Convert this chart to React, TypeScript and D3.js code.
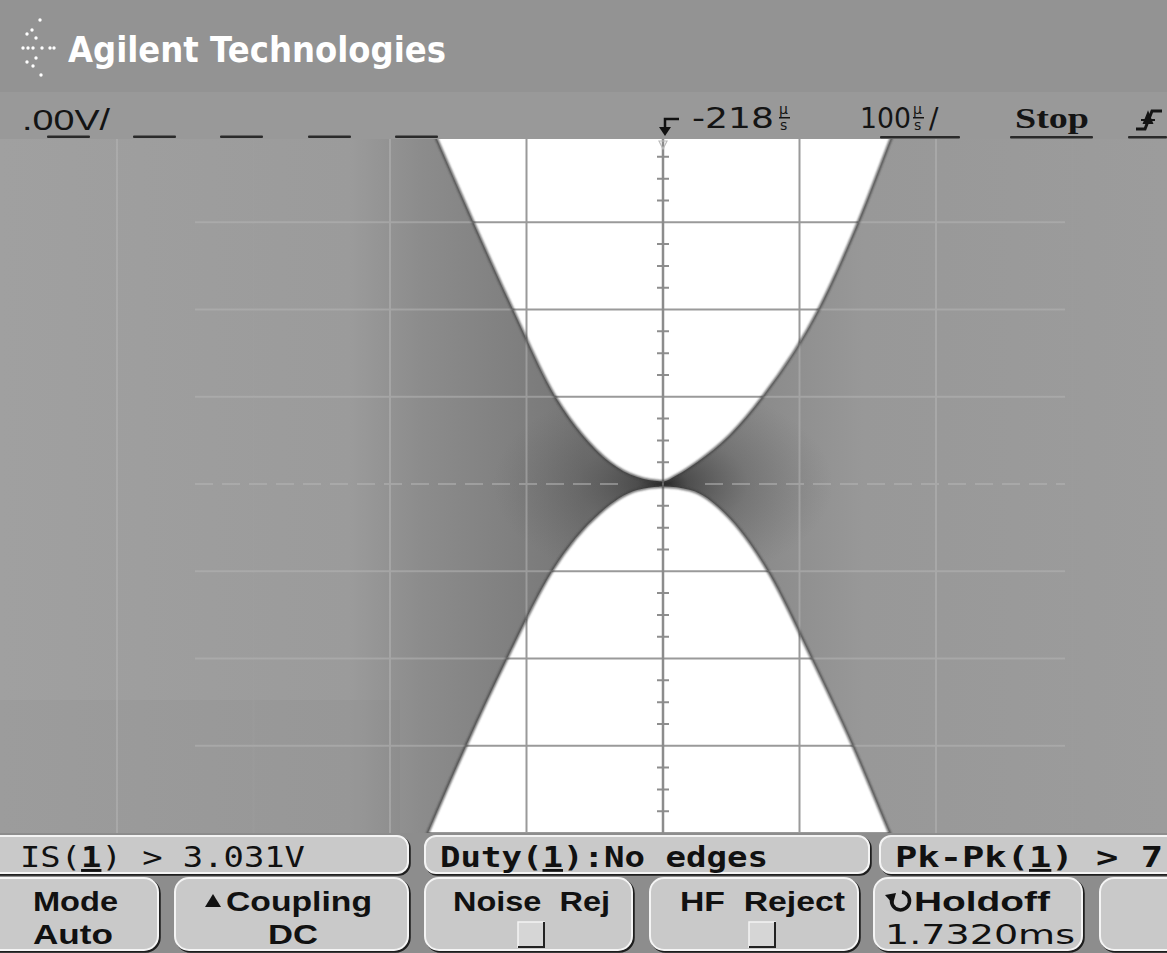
import React from 'react';
import * as d3 from 'd3';

const W = 1167;
const H = 953;

// Oscilloscope settings
const timePerDiv = 100; // µs / div
const delay = -218; // µs at screen centre
const voltsPerDiv = 1; // V / div
const divsY = 8;

// Inner edges of the waveform envelope (the white "hourglass" gaps)
const topEdgeTime = [-396, -385, -357, -328, -297, -277, -257, -237, -218, -208, -193, -169, -145, -104, -75, -50, -40];
const topEdgeVolt = [4.4, 4.0, 3.0, 2.0, 1.0, 0.56, 0.25, 0.08, 0.03, 0.1, 0.25, 0.56, 1.0, 2.0, 3.0, 4.0, 4.4];
const bottomEdgeTime = [-401, -390, -362, -332, -299, -264, -237, -218, -198, -173, -141, -109, -79, -52, -41];
const bottomEdgeVolt = [-4.4, -3.99, -2.99, -1.99, -0.99, -0.33, -0.07, -0.03, -0.07, -0.33, -1.0, -2.0, -3.0, -4.0, -4.4];

const measurements = ['IS(', '1', ') > 3.031V'];
const softkeyTop = ['Mode', 'Coupling', 'Noise  Rej', 'HF  Reject', 'Holdoff', ''];
const softkeyBottom = ['Auto', 'DC', '', '', '1.7320ms', ''];

const x = d3.scaleLinear().domain([delay - 5 * timePerDiv, delay + 5 * timePerDiv]).range([663 - 682.5, 663 + 682.5]);
const y = d3.scaleLinear().domain([-(divsY / 2) * voltsPerDiv, (divsY / 2) * voltsPerDiv]).range([833, 135]);

const PLOT_TOP = 139;
const PLOT_BOTTOM = 833;

function areaTop() {
  const idx = d3.range(topEdgeTime.length);
  return d3.area<number>().x(i => x(topEdgeTime[i])).y0(i => y(topEdgeVolt[i])).y1(y(4.8)).curve(d3.curveMonotoneX)(idx) || '';
}
function areaBottom() {
  const idx = d3.range(bottomEdgeTime.length);
  return d3.area<number>().x(i => x(bottomEdgeTime[i])).y0(i => y(bottomEdgeVolt[i])).y1(y(-4.8)).curve(d3.curveMonotoneX)(idx) || '';
}
function edgeTop() {
  const idx = d3.range(topEdgeTime.length);
  return d3.line<number>().x(i => x(topEdgeTime[i])).y(i => y(topEdgeVolt[i])).curve(d3.curveMonotoneX)(idx) || '';
}
function edgeBottom() {
  const idx = d3.range(bottomEdgeTime.length);
  return d3.line<number>().x(i => x(bottomEdgeTime[i])).y(i => y(bottomEdgeVolt[i])).curve(d3.curveMonotoneX)(idx) || '';
}

function Key({ x0, y0, w, h, r = 12 }: { x0: number; y0: number; w: number; h: number; r?: number }) {
  return (
    <g>
      <rect x={x0 + 1.5} y={y0 + 1.5} width={w} height={h} rx={r} fill="none" stroke="#1e1e1e" strokeWidth={2.5} />
      <rect x={x0} y={y0} width={w} height={h} rx={r} fill="#c9c9c9" stroke="#f4f4f4" strokeWidth={2} />
    </g>
  );
}

function CheckBox({ cx }: { cx: number }) {
  return (
    <g>
      <rect x={cx - 13} y={922} width={26} height={25} fill="#d6d6d6" stroke="#f4f4f4" strokeWidth={1.5} />
      <path d={`M${cx + 13},922 L${cx + 13},947 L${cx - 13},947`} fill="none" stroke="#222" strokeWidth={2} />
    </g>
  );
}

export default function App() {
  const xTicks = d3.range(0, 11).map(k => delay - 5 * timePerDiv + k * timePerDiv);
  const yTicks = d3.range(-4, 5).map(v => v * voltsPerDiv);
  const minor = d3.range(-4, 4.001, 0.25).filter(v => Math.abs(v - Math.round(v)) > 1e-6);
  const cx = x(delay);
  const cy = y(0);
  const top = areaTop();
  const bot = areaBottom();

  const logoDots: [number, number][] = [
    [40, 20], [32, 30], [27, 34], [23, 48], [28, 48], [33, 48], [42, 48], [50, 48], [54, 48], [27, 62], [33, 66], [41, 75], [36, 38], [36, 58],
  ];

  const sansB = '"Liberation Sans", Arial, sans-serif';
  const mono = '"DejaVu Sans Mono", monospace';

  return (
    <svg width={W} height={H} viewBox={`0 0 ${W} ${H}`} style={{ position: 'absolute', left: 0, top: 0, display: 'block' }}>
      <defs>
        <linearGradient id="bgx" x1="0" x2={W} y1="0" y2="0" gradientUnits="userSpaceOnUse">
          <stop offset="0" stopColor="#a0a0a0" />
          <stop offset="0.3" stopColor="#9b9b9b" />
          <stop offset="0.36" stopColor="#8c8c8c" />
          <stop offset="0.5" stopColor="#767676" />
          <stop offset="0.66" stopColor="#8c8c8c" />
          <stop offset="0.74" stopColor="#989898" />
          <stop offset="1" stopColor="#9c9c9c" />
        </linearGradient>
        <radialGradient id="cross" cx={cx} cy={cy} r="1" gradientUnits="userSpaceOnUse" gradientTransform={`translate(${cx},${cy}) scale(170,100) translate(${-cx},${-cy})`}>
          <stop offset="0" stopColor="#202020" stopOpacity="0.95" />
          <stop offset="0.15" stopColor="#333" stopOpacity="0.65" />
          <stop offset="0.5" stopColor="#444" stopOpacity="0.28" />
          <stop offset="1" stopColor="#555" stopOpacity="0" />
        </radialGradient>
        <clipPath id="plot">
          <rect x={0} y={PLOT_TOP} width={W} height={PLOT_BOTTOM - PLOT_TOP} />
        </clipPath>
        <clipPath id="white">
          <path d={top} />
          <path d={bot} />
        </clipPath>
        <filter id="soft" x="-10%" y="-10%" width="120%" height="120%">
          <feGaussianBlur stdDeviation="1.1" />
        </filter>
      </defs>

      {/* header */}
      <rect x={0} y={0} width={W} height={PLOT_TOP} fill="#939393" />
      <rect x={0} y={92} width={W} height={PLOT_TOP - 92} fill="#999" />
      <g fill="#fff">
        {logoDots.map(([a, b], i) => (
          <circle key={i} cx={a} cy={b} r={1.7} />
        ))}
      </g>
      <text x={68} y={62} fill="#fff" fontFamily='"DejaVu Sans", sans-serif' fontWeight="bold" fontSize={35} textLength={378} lengthAdjust="spacingAndGlyphs">
        Agilent Technologies
      </text>
      <text x={22} y={130} fill="#141414" fontFamily='"Liberation Sans", sans-serif' fontSize={29} textLength={88} lengthAdjust="spacingAndGlyphs">
        .00V/
      </text>
      {[47, 133, 220, 308, 395].map((a, i) => (
        <rect key={i} x={a} y={135.5} width={43} height={2.5} rx={1} fill="#2a2a2a" />
      ))}
      <path d={`M${cx + 16},119 L${cx + 2},119 L${cx + 2},128`} fill="none" stroke="#111" strokeWidth={2.5} />
      <path d={`M${cx - 4},127 L${cx + 8},127 L${cx + 2},136 Z`} fill="#111" />
      <text x={692} y={128} fill="#141414" fontFamily='"DejaVu Sans", sans-serif' fontSize={28} textLength={82} lengthAdjust="spacingAndGlyphs">
        -218
      </text>
      <text x={779} y={114} fill="#141414" fontFamily='"DejaVu Sans", sans-serif' fontSize={14}>µ</text>
      <rect x={779} y={117} width={11} height={1.5} fill="#141414" />
      <text x={780} y={130} fill="#141414" fontFamily='"DejaVu Sans", sans-serif' fontSize={14}>s</text>

      <text x={860} y={128} fill="#141414" fontFamily='"DejaVu Sans", sans-serif' fontSize={28} textLength={51} lengthAdjust="spacingAndGlyphs">
        100
      </text>
      <text x={913} y={114} fill="#141414" fontFamily='"DejaVu Sans", sans-serif' fontSize={14}>µ</text>
      <rect x={913} y={117} width={11} height={1.5} fill="#141414" />
      <text x={914} y={130} fill="#141414" fontFamily='"DejaVu Sans", sans-serif' fontSize={14}>s</text>
      <text x={929} y={128} fill="#141414" fontFamily='"DejaVu Sans", sans-serif' fontSize={28}>/</text>
      <rect x={880} y={136} width={80} height={2.5} rx={1} fill="#2a2a2a" />

      <text x={1015} y={128} fill="#141414" fontFamily='"Liberation Serif", serif' fontWeight="bold" fontSize={29} textLength={74} lengthAdjust="spacingAndGlyphs">
        Stop
      </text>
      <rect x={1010} y={136} width={83} height={2.5} rx={1} fill="#2a2a2a" />
      <path d="M1136,129 L1145,129 L1152,111 L1162,111" fill="none" stroke="#141414" strokeWidth={3} />
      <path d="M1141,120 L1155,120 M1148,113 L1144,123 L1152,123 Z" fill="#141414" stroke="#141414" strokeWidth={2} />
      <rect x={1128} y={136} width={39} height={2.5} rx={1} fill="#2a2a2a" />

      {/* plot area */}
      <g clipPath="url(#plot)">
        <rect x={0} y={PLOT_TOP} width={W} height={PLOT_BOTTOM - PLOT_TOP} fill="url(#bgx)" />
        <rect x={0} y={700} width={400} height={PLOT_BOTTOM - 700} fill="#000" opacity={0.02} />
        <ellipse cx={cx} cy={cy} rx={180} ry={110} fill="url(#cross)" />

        {/* faint grid seen through the waveform */}
        <g stroke="#b4b4b4" strokeWidth={2} opacity={0.55}>
          {xTicks.map((t, i) => (
            <line key={'fv' + i} x1={x(t)} x2={x(t)} y1={PLOT_TOP} y2={PLOT_BOTTOM} opacity={i === 2 || i === 8 ? 0.15 : 1} />
          ))}
          {yTicks.slice(1, -1).map((v, i) => (
            <g key={'fh' + i}>
              <line x1={195} x2={620} y1={y(v)} y2={y(v)} strokeDasharray={v === 0 ? '18 9' : undefined} />
              <line x1={705} x2={1065} y1={y(v)} y2={y(v)} strokeDasharray={v === 0 ? '18 9' : undefined} />
            </g>
          ))}
        </g>

        {/* white gaps */}
        <path d={top} fill="#fff" />
        <path d={bot} fill="#fff" />

        {/* graticule on the white */}
        <g clipPath="url(#white)">
          <g stroke="#9a9a9a" strokeWidth={2}>
            {xTicks.map((t, i) => (
              <line key={'v' + i} x1={x(t)} x2={x(t)} y1={PLOT_TOP} y2={PLOT_BOTTOM} />
            ))}
            {yTicks.map((v, i) => (
              <line key={'h' + i} x1={0} x2={W} y1={y(v)} y2={y(v)} />
            ))}
          </g>
          <g stroke="#8e8e8e" strokeWidth={2}>
            {minor.map((v, i) => (
              <line key={'m' + i} x1={cx - 6} x2={cx + 6} y1={y(v)} y2={y(v)} />
            ))}
          </g>
        </g>
        <line x1={cx} x2={cx} y1={PLOT_TOP} y2={PLOT_BOTTOM} stroke="#8c8c8c" strokeWidth={2.5} clipPath="url(#white)" />

        {/* dense trace along the gap edges */}
        <g filter="url(#soft)" fill="none" stroke="#3c3c3c" strokeWidth={2.5} opacity={0.85}>
          <path d={edgeTop()} />
          <path d={edgeBottom()} />
        </g>
        <path d={`M${cx - 4},${PLOT_TOP + 2} L${cx + 4},${PLOT_TOP + 2} L${cx},${PLOT_TOP + 10} Z`} fill="none" stroke="#bbb" strokeWidth={1.2} />
      </g>

      {/* bottom panel */}
      <rect x={0} y={PLOT_BOTTOM} width={W} height={H - PLOT_BOTTOM} fill="#8d8d8d" />
      <Key x0={-20} y0={836} w={428} h={37} r={11} />
      <Key x0={425} y0={836} w={444} h={37} r={11} />
      <Key x0={880} y0={836} w={320} h={37} r={11} />

      <text x={20} y={867} fill="#111" fontFamily={mono} fontSize={29} textLength={285} lengthAdjust="spacingAndGlyphs">
        {measurements[0]}
        <tspan fontWeight="bold" textDecoration="underline">{measurements[1]}</tspan>
        {measurements[2]}
      </text>
      <text x={440} y={867} fill="#111" fontFamily={mono} fontWeight="bold" fontSize={28} textLength={328} lengthAdjust="spacingAndGlyphs">
        Duty(<tspan textDecoration="underline">1</tspan>):No edges
      </text>
      <text x={895} y={867} fill="#111" fontFamily={mono} fontWeight="bold" fontSize={28} textLength={268} lengthAdjust="spacingAndGlyphs">
        Pk-Pk(<tspan textDecoration="underline">1</tspan>) {'>'} 7
      </text>

      <Key x0={-20} y0={878} w={178} h={72} r={14} />
      <Key x0={175} y0={878} w={233} h={72} r={14} />
      <Key x0={425} y0={878} w={207} h={72} r={14} />
      <Key x0={650} y0={878} w={208} h={72} r={14} />
      <Key x0={874} y0={878} w={208} h={72} r={14} />
      <Key x0={1100} y0={878} w={120} h={72} r={14} />

      <g fill="#111" fontFamily={sansB} fontWeight="bold" fontSize={27}>
        <text x={33} y={911} textLength={85} lengthAdjust="spacingAndGlyphs">{softkeyTop[0]}</text>
        <text x={33} y={944} textLength={80} lengthAdjust="spacingAndGlyphs">{softkeyBottom[0]}</text>
        <path d="M205,907 L221,907 L213,894 Z" />
        <text x={226} y={911} textLength={146} lengthAdjust="spacingAndGlyphs">{softkeyTop[1]}</text>
        <text x={268} y={944} textLength={50} lengthAdjust="spacingAndGlyphs">{softkeyBottom[1]}</text>
        <text x={453} y={911} textLength={157} lengthAdjust="spacingAndGlyphs" style={{ whiteSpace: 'pre' }}>{softkeyTop[2]}</text>
        <text x={680} y={911} textLength={165} lengthAdjust="spacingAndGlyphs" style={{ whiteSpace: 'pre' }}>{softkeyTop[3]}</text>
        <text x={914} y={911} textLength={136} lengthAdjust="spacingAndGlyphs">{softkeyTop[4]}</text>
      </g>
      <path d="M902,892 A9,9 0 1 1 892,898" fill="none" stroke="#111" strokeWidth={3.5} />
      <path d="M885,895 L896,893 L893,904 Z" fill="#111" />
      <text x={885} y={944} fill="#111" fontFamily='"DejaVu Sans", sans-serif' fontSize={27} textLength={190} lengthAdjust="spacingAndGlyphs">
        {softkeyBottom[4]}
      </text>
      <CheckBox cx={531} />
      <CheckBox cx={762} />
    </svg>
  );
}
